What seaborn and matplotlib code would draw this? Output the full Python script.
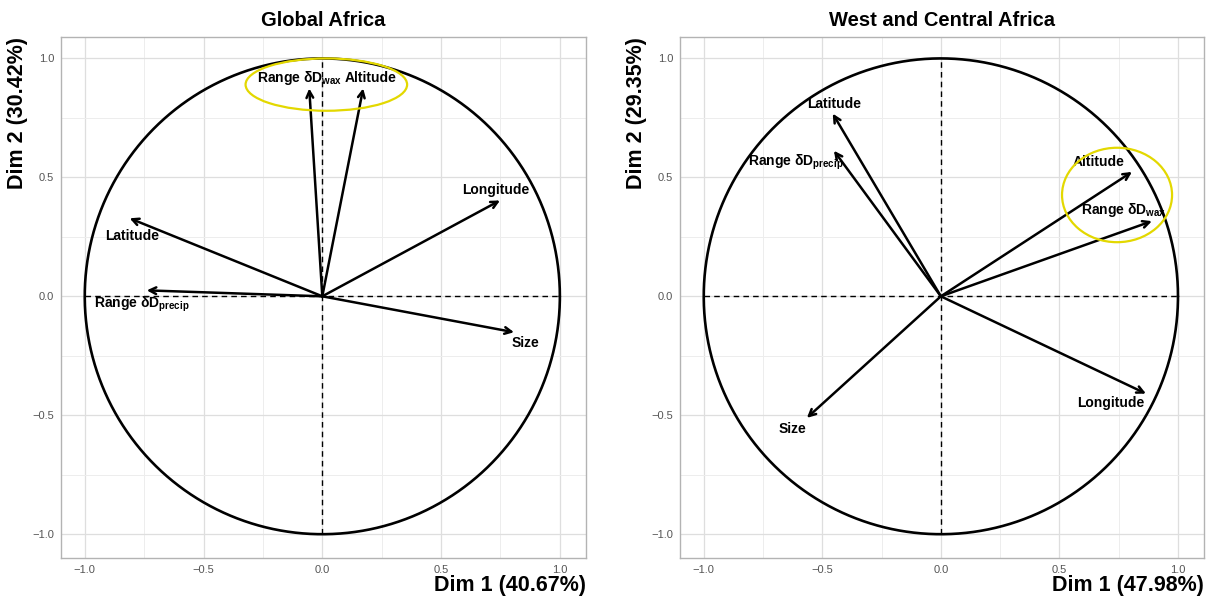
import numpy as np
import pandas as pd
import matplotlib
matplotlib.use("Agg")
import matplotlib.pyplot as plt
import seaborn as sns
from matplotlib.patches import Ellipse

sns.set_theme(style="whitegrid")
plt.rcParams['font.family'] = ['Liberation Sans', 'DejaVu Sans']
plt.rcParams['mathtext.fontset'] = 'custom'
plt.rcParams['mathtext.rm'] = 'Liberation Sans:bold'
plt.rcParams['mathtext.bf'] = 'Liberation Sans:bold'
plt.rcParams['mathtext.default'] = 'bf'
plt.rcParams['text.color'] = 'black'
plt.rcParams['axes.labelcolor'] = 'black'
plt.rcParams['axes.titlecolor'] = 'black'

# ---------------- data ----------------
variables = ["Range δD$_{wax}$", "Altitude", "Longitude", "Latitude",
             "Range δD$_{precip}$", "Size"]

global_dim1 = [-0.055, 0.172, 0.748, -0.811, -0.739, 0.807]
global_dim2 = [0.874, 0.874, 0.403, 0.328, 0.025, -0.151]

wc_dim1 = [0.890, 0.806, 0.865, -0.456, -0.451, -0.565]
wc_dim2 = [0.316, 0.523, -0.409, 0.768, 0.612, -0.511]

titles = ["Global Africa", "West and Central Africa"]
dim1_pct = ["40.67%", "47.98%"]
dim2_pct = ["30.42%", "29.35%"]
tick_vals = [-1.0, -0.5, 0.0, 0.5, 1.0]
tick_labels = ["\u22121.0", "\u22120.5", "0.0", "0.5", "1.0"]

# label offsets (data units) relative to arrow tips
global_label_off = [(-0.04, 0.045), (0.03, 0.045), (-0.02, 0.045), (0.01, -0.075),
                    (-0.02, -0.06), (0.05, -0.045)]
wc_label_off = [(-0.12, 0.045), (-0.14, 0.04), (-0.15, -0.04), (0.005, 0.04),
                (-0.16, -0.05), (-0.06, -0.045)]

# highlight ellipses (center x, center y, width, height)
global_ellipse = (0.017, 0.89, 0.68, 0.22)
wc_ellipse = (0.743, 0.426, 0.464, 0.397)

fig = plt.figure(figsize=(12.1, 5.98), dpi=100)
ax1 = fig.add_axes([0.0504, 0.0669, 0.4339, 0.8712])
ax2 = fig.add_axes([0.5620, 0.0669, 0.4331, 0.8712])

theta = np.linspace(0, 2 * np.pi, 400)
circle_df = pd.DataFrame({"x": np.cos(theta), "y": np.sin(theta)})

panels = [
    (ax1, global_dim1, global_dim2, global_label_off, global_ellipse),
    (ax2, wc_dim1, wc_dim2, wc_label_off, wc_ellipse),
]

for i, (ax, d1, d2, offs, ell) in enumerate(panels):
    ax.set_facecolor("white")
    ax.set_xticks(tick_vals)
    ax.set_yticks(tick_vals)
    ax.set_xticks([-0.75, -0.25, 0.25, 0.75], minor=True)
    ax.set_yticks([-0.75, -0.25, 0.25, 0.75], minor=True)
    ax.grid(True, which="major", color="#DEDEDE", linewidth=0.9)
    ax.grid(True, which="minor", color="#EDEDED", linewidth=0.7)
    ax.set_axisbelow(True)
    for s in ax.spines.values():
        s.set_color("#B3B3B3")
        s.set_linewidth(1.0)

    # dashed axes
    ax.plot([-1, 1], [0, 0], ls=(0, (4, 3)), color="black", lw=1.0, zorder=2)
    ax.plot([0, 0], [-1, 1], ls=(0, (4, 3)), color="black", lw=1.0, zorder=2)

    # correlation circle
    sns.lineplot(data=circle_df, x="x", y="y", sort=False, color="black",
                 linewidth=1.9, ax=ax, zorder=3, estimator=None)

    # arrows
    df = pd.DataFrame({"var": variables, "d1": d1, "d2": d2})
    for _, r in df.iterrows():
        ax.annotate("", xy=(r.d1, r.d2), xytext=(0, 0),
                    arrowprops=dict(arrowstyle="->", color="black", lw=1.8,
                                    mutation_scale=12, shrinkA=0, shrinkB=0),
                    zorder=4)
    for (name, x, y), (ox, oy) in zip(zip(variables, d1, d2), offs):
        ax.text(x + ox, y + oy, name, ha="center", va="center",
                fontsize=10, fontweight="bold", color="black", zorder=5)

    ax.add_patch(Ellipse((ell[0], ell[1]), ell[2], ell[3], fill=False,
                         edgecolor="#E3D800", linewidth=1.6, zorder=6))

    ax.set_xlim(-1.1, 1.11)
    ax.set_ylim(-1.1, 1.09)
    ax.set_xticklabels(tick_labels)
    ax.set_yticklabels(tick_labels)
    ax.tick_params(axis="both", which="major", labelsize=8, labelcolor="#555555",
                   length=3, color="#B3B3B3", pad=2)
    ax.tick_params(axis="both", which="minor", length=0)

    ax.set_title(titles[i], fontsize=14.5, fontweight="bold", pad=8, color="black")
    ax.set_xlabel(f"Dim 1 ({dim1_pct[i]})", fontsize=15.5, fontweight="bold",
                  loc="right", labelpad=0, color="black")
    ax.set_ylabel(f"Dim 2 ({dim2_pct[i]})", fontsize=15.5, fontweight="bold",
                  loc="top", labelpad=3, color="black")

fig.savefig("out.png", dpi=100)
